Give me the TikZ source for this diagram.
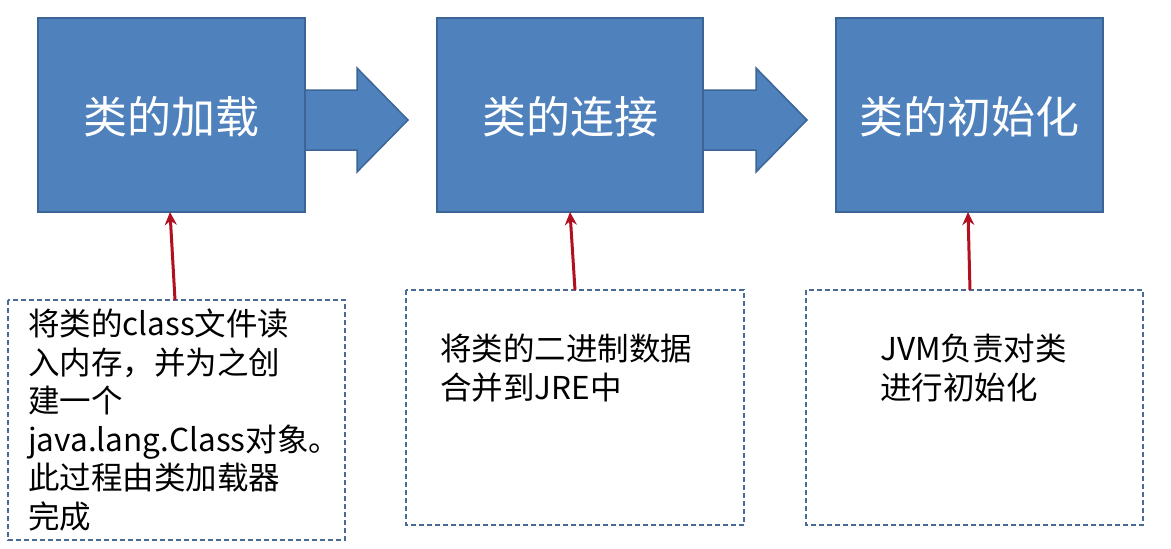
\documentclass[tikz,border=0pt]{standalone}
\usepackage{fontspec}
\setmainfont{Noto Sans CJK SC}
\usetikzlibrary{arrows.meta}
\definecolor{bfill}{HTML}{4F81BD}
\definecolor{bdraw}{HTML}{3A6596}
\definecolor{rarr}{HTML}{B01020}
\definecolor{dash}{HTML}{4A6A96}
\begin{document}
\begin{tikzpicture}[x=1pt,y=-1pt,
  blk/.style={fill=bfill,draw=bdraw,line width=1.5pt},
  big/.style={text=white,font=\fontsize{44}{52}\selectfont},
  dbox/.style={draw=dash,dash pattern=on 5pt off 3pt,line width=1.5pt},
  small/.style={font=\fontsize{31.5}{38.5}\selectfont,align=left,anchor=north west,inner sep=0pt},
  red/.style={draw=rarr,line width=3pt,-{Stealth[length=13pt,width=12pt]}}]
\useasboundingbox (0,0) rectangle (1171,549);
\foreach \x in {305,704}{
  \draw[blk] (\x-2,90) -- (\x+52,90) -- (\x+52,68) -- (\x+103,120) -- (\x+52,172) -- (\x+52,150) -- (\x-2,150);}
\draw[blk] (38,18) rectangle (305,212); \node[big] (b1) at (171,117) {类的加载};
\draw[blk] (437,18) rectangle (703,212); \node[big] (b2) at (570,117) {类的连接};
\draw[blk] (836,18) rectangle (1103,212); \node[big] (b3) at (969,117) {类的初始化};
\coordinate (t1) at (170,212); \coordinate (t2) at (570,212); \coordinate (t3) at (968,212);
\draw[dbox] (8,300) rectangle (345,540);
\draw[dbox] (406,290) rectangle (744,525);
\draw[dbox] (806,290) rectangle (1143,525);
\coordinate (s1) at (175,300); \coordinate (s2) at (575,290); \coordinate (s3) at (970,290);
\draw[red] (s1) -- (t1); \draw[red] (s2) -- (t2); \draw[red] (s3) -- (t3);
\node[small] (d1) at (28,309) {将类的class文件读\\入内存，并为之创\\建一个\\java.lang.Class对象。\\此过程由类加载器\\完成};
\node[small] (d2) at (440,334) {将类的二进制数据\\合并到JRE中};
\node[small] (d3) at (880,334) {JVM负责对类\\进行初始化};
\end{tikzpicture}
\end{document}
